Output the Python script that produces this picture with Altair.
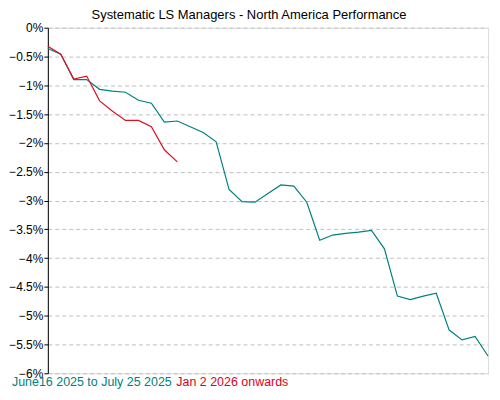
import altair as alt
import pandas as pd

teal_vals = [-0.36, -0.46, -0.90, -0.90, -1.07, -1.10, -1.12, -1.26, -1.31, -1.64,
             -1.62, -1.72, -1.82, -1.98, -2.81, -3.02, -3.03, -2.88, -2.73, -2.75,
             -3.03, -3.69, -3.60, -3.57, -3.55, -3.52, -3.84, -4.66, -4.72, -4.66,
             -4.61, -5.25, -5.42, -5.36, -5.70]
red_vals = [-0.32, -0.46, -0.89, -0.84, -1.27, -1.45, -1.61, -1.61, -1.72, -2.12, -2.33]
series_names = ["June16 2025 to July 25 2025", "Jan 2 2026 onwards"]
colors = ["#008080", "#dd1122"]
y_ticks = [0, -0.5, -1, -1.5, -2, -2.5, -3, -3.5, -4, -4.5, -5, -5.5, -6]

rows = []
for i, v in enumerate(teal_vals):
    rows.append({"day": i, "perf": v / 100, "series": series_names[0]})
for i, v in enumerate(red_vals):
    rows.append({"day": i, "perf": v / 100, "series": series_names[1]})
df = pd.DataFrame(rows)

FONT = "Liberation Sans"
W, H = 442, 347

x = alt.X("day:Q", scale=alt.Scale(domain=[0, len(teal_vals) - 1], nice=False, zero=False),
          axis=None)
y = alt.Y("perf:Q", scale=alt.Scale(domain=[-0.06, 0], nice=False),
          axis=alt.Axis(values=[t / 100 for t in y_ticks], format=".1~%", title=None,
                        labelFont=FONT, labelFontSize=12, labelColor="#000000",
                        domainColor="#000000", tickColor="#000000", tickSize=4,
                        labelPadding=1, grid=True, gridColor="#c0c0c0",
                        gridDash=[4, 3], gridWidth=1, labelFlush=False,
                        labelOverlap=False))

lines = alt.Chart(df).mark_line(strokeWidth=1.2, interpolate="linear").encode(
    x=x, y=y,
    color=alt.Color("series:N", scale=alt.Scale(domain=series_names, range=colors), legend=None),
    order="day:Q",
)

leg1 = alt.Chart(pd.DataFrame({"t": [series_names[0]]})).mark_text(
    align="left", baseline="alphabetic", font=FONT, fontSize=12.5, color=colors[0]
).encode(x=alt.value(-36), y=alt.value(H + 13), text="t:N")

leg2 = alt.Chart(pd.DataFrame({"t": [series_names[1]]})).mark_text(
    align="left", baseline="alphabetic", font=FONT, fontSize=12.5, color="#e0001b"
).encode(x=alt.value(129), y=alt.value(H + 13), text="t:N")

chart = alt.layer(lines, leg1, leg2).properties(
    width=W, height=H,
    title=alt.TitleParams("Systematic LS Managers - North America Performance",
                          font=FONT, fontSize=13, fontWeight="normal", color="#000000",
                          anchor="middle", frame="group", dx=-19, offset=0),
    padding={"left": 0, "top": 0, "right": 1, "bottom": 0},
).configure_view(stroke="#000000", strokeWidth=1.5).configure(background="white")

chart.save("out.html", embed_options={"renderer": "svg", "actions": False})
